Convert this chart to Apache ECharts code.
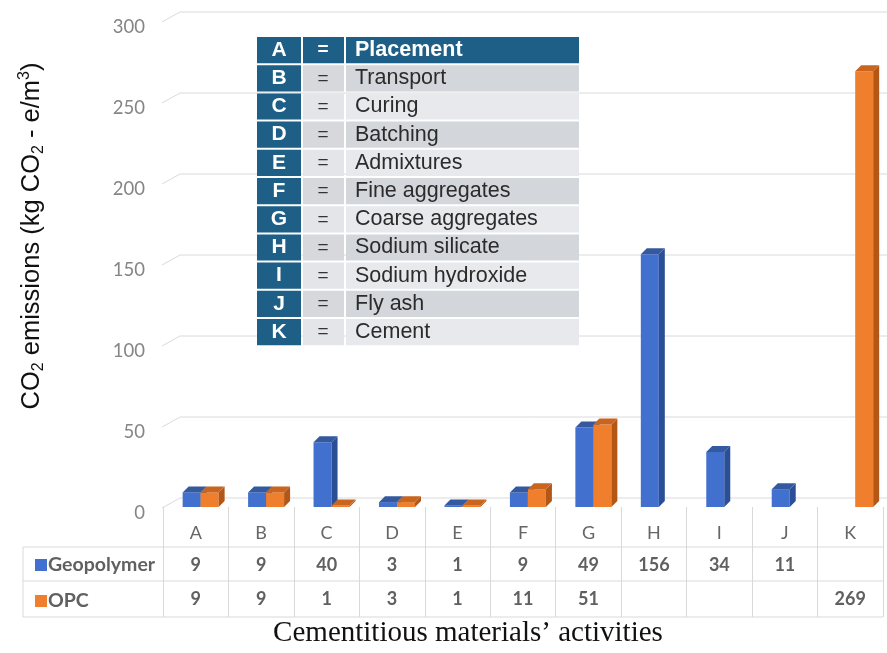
<!DOCTYPE html>
<html>
<head>
<meta charset="utf-8">
<script src="https://cdn.jsdelivr.net/npm/echarts@6/dist/echarts.min.js"></script>
<style>
  html, body { margin: 0; padding: 0; background: #fff; }
  #main { width: 887px; height: 653px; }
</style>
</head>
<body>
<div id="main"></div>
<script>
// categories and values
var categories = ['A', 'B', 'C', 'D', 'E', 'F', 'G', 'H', 'I', 'J', 'K'];
var activityNames = ['Placement', 'Transport', 'Curing', 'Batching', 'Admixtures', 'Fine aggregates',
    'Coarse aggregates', 'Sodium silicate', 'Sodium hydroxide', 'Fly ash', 'Cement'];
var seriesNames = ['Geopolymer', 'OPC'];
var geopolymer = [9, 9, 40, 3, 1, 9, 49, 156, 34, 11, null];
var opc = [9, 9, 1, 3, 1, 11, 51, null, null, null, 269];
var yTicks = [0, 50, 100, 150, 200, 250, 300];

var palette = [
    { front: '#4170cf', side: '#2b4f96', top: '#34599f' },
    { front: '#f07f2d', side: '#b35717', top: '#c9651f' }
];

var myChart = echarts.init(document.getElementById('main'));

// 3D-ish bar: front face + right side + top face
var barRenderer = function (idx) {
    return function (params, api) {
        var v = api.value(1);
        if (v == null || isNaN(v)) return;
        var top = api.coord([api.value(0), v]);
        var base = api.coord([api.value(0), 0]);
        var band = api.size([1, 0])[0];
        var w = band * 0.275;
        var shift = band * 0.075;
        var x = idx === 0 ? top[0] + shift - w : top[0] + shift;
        var d = 6;
        var c = palette[idx];
        return {
            type: 'group',
            children: [
                { type: 'rect', shape: { x: x, y: top[1], width: w, height: base[1] - top[1] }, style: { fill: c.front } },
                { type: 'polygon', shape: { points: [[x + w, top[1]], [x + w + d, top[1] - d], [x + w + d, base[1] - d], [x + w, base[1]]] }, style: { fill: c.side } },
                { type: 'polygon', shape: { points: [[x, top[1]], [x + d, top[1] - d], [x + w + d, top[1] - d], [x + w, top[1]]] }, style: { fill: c.top } }
            ]
        };
    };
};

// back wall gridlines with the little diagonal floor stub
var gridRenderer = function (params, api) {
    var y = api.coord([0, api.value(1)])[1];
    var gx = params.coordSys.x;
    var gw = params.coordSys.width;
    return {
        type: 'polyline',
        shape: { points: [[gx - 1, y + 1], [gx + 17, y - 9], [gx + gw + 4, y - 9]] },
        style: { stroke: '#dadada', lineWidth: 1, fill: null }
    };
};

var fmt = function (v) { return v == null ? ' ' : String(v); };

// legend table (letter = activity)
var tableGraphics = [];
var rowTop = 37, rowH = 28.2;
categories.forEach(function (cat, i) {
    var y = rowTop + i * rowH;
    var head = i === 0;
    var grey = i % 2 === 1 ? '#d3d6db' : '#e7e9ec';
    var greyEq = i % 2 === 1 ? '#d6d8dc' : '#e3e5e8';
    tableGraphics.push({ type: 'rect', shape: { x: 257, y: y, width: 44, height: rowH - 2 }, style: { fill: '#1d5f86' }, z: 10 });
    tableGraphics.push({ type: 'rect', shape: { x: 303, y: y, width: 41, height: rowH - 2 }, style: { fill: head ? '#1d5f86' : greyEq }, z: 10 });
    tableGraphics.push({ type: 'rect', shape: { x: 346, y: y, width: 233, height: rowH - 2 }, style: { fill: head ? '#1d5f86' : grey }, z: 10 });
    tableGraphics.push({ type: 'text', x: 279, y: y + rowH / 2 - 1, z: 11,
        style: { text: cat, fill: '#fff', font: 'bold 21px "Liberation Sans", Arial', align: 'center', verticalAlign: 'middle' } });
    tableGraphics.push({ type: 'text', x: 323, y: y + rowH / 2 - 1, z: 11,
        style: { text: '=', fill: head ? '#fff' : '#333', font: (head ? 'bold ' : '') + '19px "Liberation Sans", Arial', align: 'center', verticalAlign: 'middle' } });
    tableGraphics.push({ type: 'text', x: 355, y: y + rowH / 2 - 1, z: 11,
        style: { text: activityNames[i], fill: head ? '#fff' : '#2b2b2b', font: (head ? 'bold ' : '') + '21.5px "Liberation Sans", Arial', align: 'left', verticalAlign: 'middle' } });
});

// data table frame lines
var lineStyle = { stroke: '#d9d9d9', lineWidth: 1 };
[547, 581, 617].forEach(function (y) {
    tableGraphics.push({ type: 'line', shape: { x1: 23, y1: y, x2: 883, y2: y }, style: lineStyle });
});
tableGraphics.push({ type: 'line', shape: { x1: 23, y1: 547, x2: 23, y2: 617 }, style: lineStyle });

// y axis title with sub/superscripts
tableGraphics.push({
    type: 'text', x: 32, y: 236, rotation: Math.PI / 2,
    style: {
        text: '{t|CO}{s|2}{t| emissions (kg CO}{s|2}{t| - e/m}{p|3}{t|)}',
        align: 'center', verticalAlign: 'middle',
        rich: {
            t: { fontSize: 25.5, fontFamily: '"Liberation Sans", Arial', fill: '#111', lineHeight: 30 },
            s: { fontSize: 16, fontFamily: '"Liberation Sans", Arial', fill: '#111', lineHeight: 16, verticalAlign: 'bottom' },
            p: { fontSize: 16, fontFamily: '"Liberation Sans", Arial', fill: '#111', lineHeight: 16, verticalAlign: 'top' }
        }
    }
});

// x axis title
tableGraphics.push({
    type: 'text', x: 468, y: 633,
    style: {
        text: 'Cementitious materials\u2019 activities',
        font: '29px "Liberation Serif", "Times New Roman", serif',
        fill: '#111', align: 'center', verticalAlign: 'middle'
    }
});

var option = {
    animation: false,
    backgroundColor: '#fff',
    grid: { left: 163, right: 4, top: 21, bottom: 146, containLabel: false },
    legend: {
        data: seriesNames,
        orient: 'vertical',
        left: 30,
        top: 550,
        itemWidth: 12,
        itemHeight: 12,
        itemGap: 16,
        icon: 'rect',
        textStyle: { color: '#606060', fontSize: 19.5, fontWeight: 'bold', fontFamily: 'Lato', padding: [0, 0, 0, -4] }
    },
    xAxis: {
        type: 'category',
        data: categories,
        axisLine: { show: false },
        axisTick: { show: true, length: 110, lineStyle: { color: '#d9d9d9' } },
        axisLabel: {
            interval: 0,
            margin: 10,
            formatter: function (val, idx) {
                return '{a|' + val + '}\n{b|' + fmt(geopolymer[idx]) + '}\n{c|' + fmt(opc[idx]) + '}';
            },
            rich: {
                a: { fontSize: 18, fontFamily: 'Lato', color: '#666', lineHeight: 32 },
                b: { fontSize: 18, fontFamily: 'Lato', fontWeight: 'bold', color: '#606060', lineHeight: 33 },
                c: { fontSize: 18, fontFamily: 'Lato', fontWeight: 'bold', color: '#606060', lineHeight: 34 }
            }
        }
    },
    yAxis: {
        type: 'value',
        min: 0,
        max: 300,
        interval: 50,
        axisLine: { show: false },
        axisTick: { show: false },
        splitLine: { show: false },
        axisLabel: { margin: 18, color: '#858585', fontSize: 18.5, fontFamily: 'Lato', verticalAlign: 'top', lineHeight: 12 }
    },
    graphic: tableGraphics,
    series: [
        {
            type: 'custom', name: 'grid', silent: true, z: 0,
            renderItem: gridRenderer,
            data: yTicks.map(function (v) { return [0, v]; })
        },
        {
            type: 'custom', name: seriesNames[0], z: 2,
            itemStyle: { color: palette[0].front },
            renderItem: barRenderer(0),
            encode: { x: 0, y: 1 },
            data: geopolymer.map(function (v, i) { return [i, v]; })
        },
        {
            type: 'custom', name: seriesNames[1], z: 3,
            itemStyle: { color: palette[1].front },
            renderItem: barRenderer(1),
            encode: { x: 0, y: 1 },
            data: opc.map(function (v, i) { return [i, v]; })
        }
    ]
};

myChart.setOption(option);
</script>
</body>
</html>
